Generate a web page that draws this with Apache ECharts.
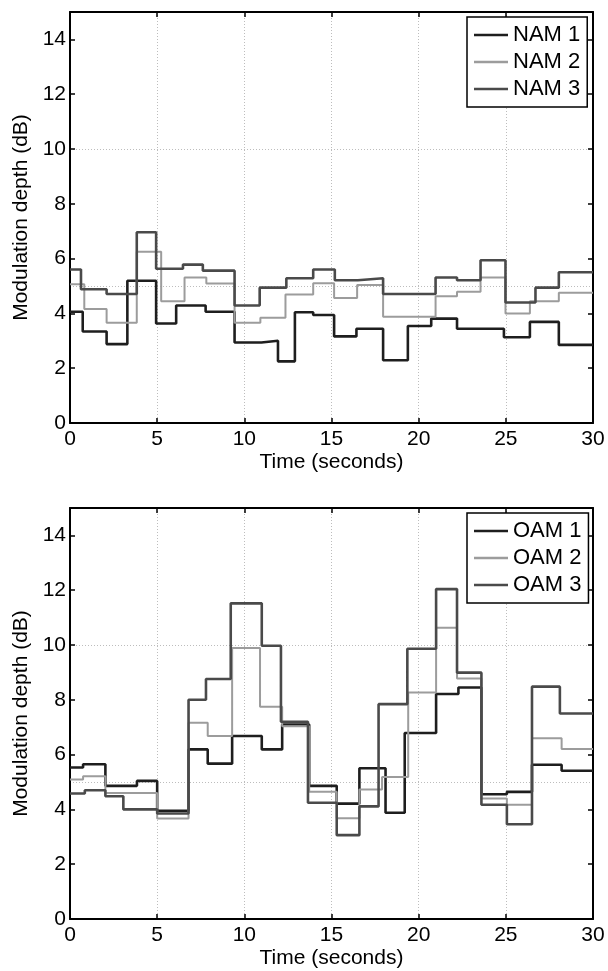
<!DOCTYPE html>
<html>
<head>
<meta charset="utf-8">
<script src="https://cdn.jsdelivr.net/npm/echarts@6/dist/echarts.min.js"></script>
<style>
  html, body { margin: 0; padding: 0; background: #fff; }
  #main { width: 608px; height: 971px; }
</style>
</head>
<body>
<div id="main"></div>
<script>
// step start times (s) and levels (dB), top panel
const namTime1 = [0, 0.73, 2.1, 3.29, 4.94, 6.09, 7.78, 9.44, 10.98, 11.93, 12.9, 13.95, 15.15, 16.43, 17.96, 19.38, 20.72, 22.2, 24.89, 26.38, 28.04, 30]
const namVal1 = [4.06, 3.34, 2.88, 5.19, 3.63, 4.29, 4.06, 2.94, 3.0, 2.25, 4.04, 3.94, 3.16, 3.44, 2.29, 3.54, 3.81, 3.44, 3.13, 3.69, 2.85, 2.85]
const namTime2 = [0, 0.82, 2.1, 3.83, 5.23, 6.57, 7.82, 9.44, 10.92, 12.36, 13.95, 15.15, 16.47, 17.96, 20.97, 22.2, 23.55, 24.98, 26.38, 28.04, 30]
const namVal2 = [5.06, 4.16, 3.66, 6.25, 4.44, 5.31, 5.09, 3.66, 3.84, 4.69, 5.1, 4.56, 5.04, 3.88, 4.63, 4.79, 5.31, 4.0, 4.44, 4.75, 4.75]
const namTime3 = [0, 0.63, 2.1, 3.83, 4.94, 6.48, 7.62, 9.44, 10.88, 12.41, 13.95, 15.19, 16.51, 17.96, 20.97, 22.2, 23.55, 24.98, 26.7, 28.04, 30]
const namVal3 = [5.6, 4.88, 4.71, 6.96, 5.63, 5.78, 5.56, 4.29, 4.94, 5.28, 5.6, 5.21, 5.28, 4.71, 5.31, 5.21, 5.94, 4.4, 4.94, 5.5, 5.5]

// bottom panel
const oamTime1 = [0, 0.75, 2.03, 3.84, 5.0, 6.8, 7.9, 9.3, 11.0, 12.17, 13.72, 15.3, 16.6, 18.1, 19.2, 21.0, 22.28, 23.6, 25.06, 26.5, 28.2, 30]
const oamVal1 = [5.53, 5.65, 4.86, 5.04, 3.95, 6.19, 5.67, 6.68, 6.19, 7.1, 4.86, 4.21, 5.5, 3.88, 6.79, 8.21, 8.45, 4.55, 4.64, 5.63, 5.41, 5.41]
const oamTime2 = [0, 0.75, 2.03, 5.0, 6.8, 7.9, 9.3, 10.9, 12.17, 13.72, 15.3, 16.6, 17.9, 19.4, 21.0, 22.2, 23.6, 25.06, 26.5, 28.2, 30]
const oamVal2 = [5.09, 5.21, 4.6, 3.67, 7.16, 6.68, 9.89, 7.75, 7.03, 4.64, 3.68, 4.73, 5.18, 8.27, 10.63, 8.78, 4.4, 4.17, 6.6, 6.2, 6.2]
const oamTime3 = [0, 0.85, 2.03, 3.06, 5.0, 6.8, 7.8, 9.22, 11.0, 12.1, 13.65, 15.3, 16.6, 17.7, 19.35, 21.0, 22.2, 23.6, 25.06, 26.5, 28.1, 30]
const oamVal3 = [4.58, 4.7, 4.48, 4.0, 3.85, 8.0, 8.76, 11.52, 9.97, 7.2, 4.24, 3.06, 4.11, 7.84, 9.86, 12.04, 8.99, 4.17, 3.46, 8.48, 7.5, 7.5]

const namNames = ['NAM 1', 'NAM 2', 'NAM 3']
const oamNames = ['OAM 1', 'OAM 2', 'OAM 3']
const lineColors = ['#1e1e1e', '#9c9c9c', '#4a4a4a']
const lineWidths = [2.6, 2, 2.6]

const font = 'Liberation Sans, Arial, sans-serif'
const dotted = { show: true, lineStyle: { color: '#bdbdbd', type: [1, 2], width: 1 } }

function pairs (t, v) {
  return t.map(function (x, i) { return [x, v[i]] })
}

function makeX (gridIndex, bottom) {
  return {
    type: 'value', gridIndex: gridIndex, min: 0, max: 30, interval: 5,
    position: bottom ? 'bottom' : 'top',
    name: bottom ? 'Time (seconds)' : '',
    nameLocation: 'middle', nameGap: 29,
    nameTextStyle: { fontFamily: font, fontSize: 21, color: '#000' },
    axisLine: { show: true, onZero: false, lineStyle: { color: '#000', width: 2 } },
    axisTick: { show: true, inside: true, length: 5, lineStyle: { color: '#000', width: 1.5 } },
    axisLabel: { show: bottom, fontFamily: font, fontSize: 21, color: '#000', margin: 6 },
    splitLine: bottom ? dotted : { show: false }
  }
}

function makeY (gridIndex, kind) {
  // kind: 'left' = labels, 'right' = ticks only, 'grid' = dotted lines every 5
  if (kind === 'grid') {
    return {
      type: 'value', gridIndex: gridIndex, min: 0, max: 15, interval: 5,
      axisLine: { show: false }, axisTick: { show: false }, axisLabel: { show: false },
      splitLine: dotted
    }
  }
  return {
    type: 'value', gridIndex: gridIndex, min: 0, max: 14.999, interval: 2,
    position: kind,
    name: kind === 'left' ? 'Modulation depth (dB)' : '',
    nameLocation: 'middle', nameGap: 36,
    nameTextStyle: { fontFamily: font, fontSize: 21, color: '#000' },
    axisLine: { show: true, onZero: false, lineStyle: { color: '#000', width: 2 } },
    axisTick: { show: true, inside: true, length: 5, lineStyle: { color: '#000', width: 1.5 } },
    axisLabel: { show: kind === 'left', showMaxLabel: false, fontFamily: font, fontSize: 21, color: '#000', margin: 4 },
    splitLine: { show: false }
  }
}

function makeSeries (name, i, t, v, xi, yi) {
  return {
    name: name, type: 'line', step: 'end', xAxisIndex: xi, yAxisIndex: yi,
    data: pairs(t, v), symbol: 'none', showSymbol: false, animation: false,
    lineStyle: { color: lineColors[i], width: lineWidths[i] },
    itemStyle: { color: lineColors[i] }
  }
}

function makeLegend (names, top) {
  return {
    data: names, orient: 'vertical', left: 467, top: top,
    icon: 'rect', itemWidth: 34, itemHeight: 2.5, itemGap: 5,
    padding: [7, 7, 7, 7],
    borderColor: '#000', borderWidth: 1.5, backgroundColor: '#fff',
    textStyle: { fontFamily: font, fontSize: 22, lineHeight: 22, color: '#000' }
  }
}

const chart = echarts.init(document.getElementById('main'))
chart.setOption({
  backgroundColor: '#fff',
  animation: false,
  legend: [makeLegend(namNames, 17), makeLegend(oamNames, 513)],
  grid: [
    { left: 70, right: 15, top: 12, bottom: 548 },
    { left: 70, right: 15, top: 508, bottom: 52 }
  ],
  xAxis: [makeX(0, true), makeX(0, false), makeX(1, true), makeX(1, false)],
  yAxis: [makeY(0, 'left'), makeY(0, 'right'), makeY(0, 'grid'), makeY(1, 'left'), makeY(1, 'right'), makeY(1, 'grid')],
  series: [
    makeSeries(namNames[0], 0, namTime1, namVal1, 0, 0),
    makeSeries(namNames[1], 1, namTime2, namVal2, 0, 0),
    makeSeries(namNames[2], 2, namTime3, namVal3, 0, 0),
    makeSeries(oamNames[0], 0, oamTime1, oamVal1, 2, 3),
    makeSeries(oamNames[1], 1, oamTime2, oamVal2, 2, 3),
    makeSeries(oamNames[2], 2, oamTime3, oamVal3, 2, 3)
  ]
})
window.onresize = function () {
  chart.resize()
}
</script>
</body>
</html>
